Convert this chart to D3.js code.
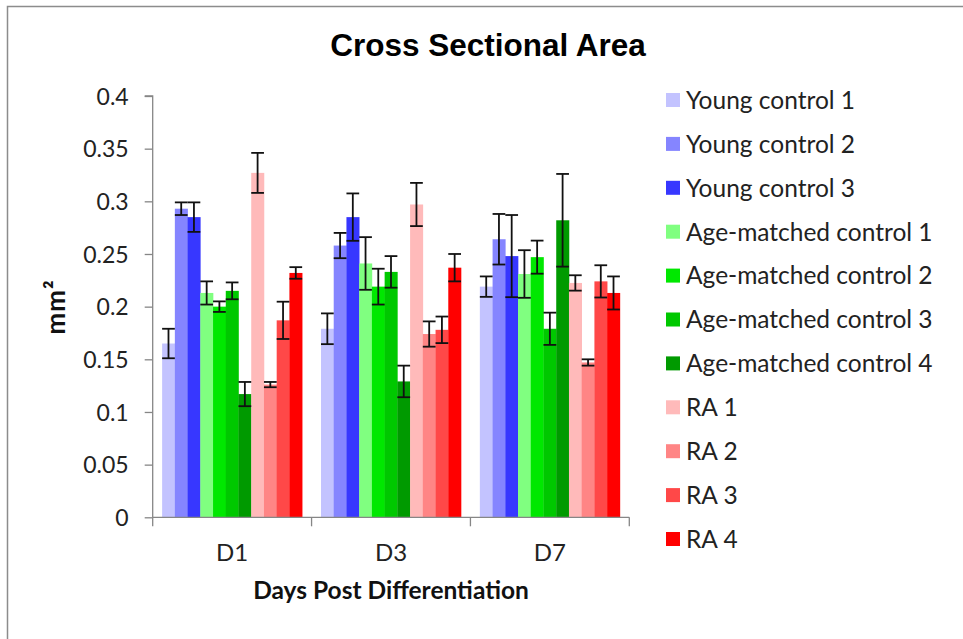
<!DOCTYPE html>
<html>
<head>
<meta charset="utf-8">
<script src="https://cdn.jsdelivr.net/npm/d3@7"></script>
<style>
  body { margin: 0; background: #fff; }
  svg { display: block; }
  .tick text { font-family: Lato, "Open Sans", sans-serif; font-size: 23px; fill: #222; }
</style>
</head>
<body>
<svg id="chart" width="963" height="639"></svg>
<script>
const days = ["D1", "D3", "D7"];
const groups = ["Young control 1", "Young control 2", "Young control 3",
  "Age-matched control 1", "Age-matched control 2", "Age-matched control 3", "Age-matched control 4",
  "RA 1", "RA 2", "RA 3", "RA 4"];
const colors = ["#c3c3ff", "#8585ff", "#3737ff", "#80ff80", "#00e800", "#00c800", "#009a00",
  "#ffbaba", "#ff8585", "#ff4848", "#ff0000"];
// mean per group, one value per day
const means = [
  [0.165, 0.179, 0.219],
  [0.293, 0.258, 0.264],
  [0.285, 0.285, 0.248],
  [0.213, 0.241, 0.231],
  [0.200, 0.219, 0.247],
  [0.215, 0.233, 0.179],
  [0.117, 0.129, 0.282],
  [0.327, 0.297, 0.2225],
  [0.126, 0.174, 0.147],
  [0.187, 0.178, 0.224],
  [0.232, 0.237, 0.213]
];
// error bar half-length
const errs = [
  [0.014, 0.0146, 0.0097],
  [0.006, 0.012, 0.024],
  [0.014, 0.0225, 0.039],
  [0.011, 0.025, 0.0226],
  [0.005, 0.017, 0.0157],
  [0.008, 0.015, 0.0153],
  [0.0115, 0.015, 0.044],
  [0.019, 0.0205, 0.0073],
  [0.0025, 0.012, 0.003],
  [0.0177, 0.0126, 0.0153],
  [0.0055, 0.013, 0.0157]
];
const yTicks = [0, 0.05, 0.1, 0.15, 0.2, 0.25, 0.3, 0.35, 0.4];

let svg = d3.select("#chart");

// outer frame
svg.append("rect")
   .attr("x", 7.5).attr("y", 6.5)
   .attr("width", 1000).attr("height", 700)
   .attr("fill", "none")
   .attr("stroke", "#8c8c8c")
   .attr("stroke-width", 1.5);

let margin = {left: 152.7, top: 96, right: 629.3, bottom: 517.3};

let x0 = d3.scaleBand().domain(days).range([margin.left, margin.right]).padding(0);
let x1 = d3.scaleBand().domain(d3.range(groups.length))
           .range([0, x0.bandwidth()]).paddingInner(0).paddingOuter(0.74);
let y = d3.scaleLinear().domain([0, 0.4]).range([margin.bottom, margin.top]);

// bars
let rows = [];
groups.forEach((g, i) => {
  days.forEach((d, j) => {
    rows.push({group: i, day: d, value: means[i][j], err: errs[i][j]});
  });
});

let g = svg.append("g");
g.selectAll(".bar")
 .data(rows)
 .enter().append("rect")
 .attr("class", "bar")
 .attr("x", d => x0(d.day) + x1(d.group))
 .attr("width", x1.bandwidth() + 0.3)
 .attr("y", d => y(d.value))
 .attr("height", d => y(0) - y(d.value))
 .attr("fill", d => colors[d.group]);

// y axis
let yAxis = svg.append("g")
   .attr("transform", "translate(" + margin.left + ",0)")
   .call(d3.axisLeft(y).tickValues(yTicks).tickSize(8).tickPadding(16)
           .tickFormat(d => d3.format("")(+d.toFixed(2))));
yAxis.selectAll("path, line").attr("stroke", "#868686").attr("stroke-width", 1.3);
yAxis.select(".domain").attr("d", "M-8," + y(0.4) + "H0V" + y(0));
yAxis.selectAll(".tick text").attr("dy", "0.36em");

// x axis (ticks at category boundaries)
let xAxis = svg.append("g").attr("transform", "translate(0," + y(0) + ")");
xAxis.append("line")
     .attr("x1", margin.left).attr("x2", margin.right)
     .attr("stroke", "#868686").attr("stroke-width", 1.3);
xAxis.selectAll(".xtick")
     .data(days.concat(["end"]))
     .enter().append("line")
     .attr("x1", (d, i) => margin.left + i * x0.step())
     .attr("x2", (d, i) => margin.left + i * x0.step())
     .attr("y1", 0).attr("y2", 9)
     .attr("stroke", "#868686").attr("stroke-width", 1.3);
xAxis.selectAll(".xlabel")
     .data(days)
     .enter().append("text")
     .attr("x", d => x0(d) + x0.bandwidth() / 2)
     .attr("y", 44)
     .attr("text-anchor", "middle")
     .style("font-family", "Lato, 'Open Sans', sans-serif")
     .style("font-size", "24px")
     .attr("fill", "#222")
     .text(d => d);

// error bars
let capW = x1.bandwidth();
let eb = g.selectAll(".err")
  .data(rows)
  .enter().append("g")
  .attr("class", "err")
  .attr("stroke", "#111")
  .attr("stroke-width", 1.8);
eb.append("line")
  .attr("x1", d => x0(d.day) + x1(d.group) + capW / 2)
  .attr("x2", d => x0(d.day) + x1(d.group) + capW / 2)
  .attr("y1", d => y(d.value + d.err))
  .attr("y2", d => y(d.value - d.err));
eb.append("line")
  .attr("x1", d => x0(d.day) + x1(d.group))
  .attr("x2", d => x0(d.day) + x1(d.group) + capW)
  .attr("y1", d => y(d.value + d.err))
  .attr("y2", d => y(d.value + d.err));
eb.append("line")
  .attr("x1", d => x0(d.day) + x1(d.group))
  .attr("x2", d => x0(d.day) + x1(d.group) + capW)
  .attr("y1", d => y(d.value - d.err))
  .attr("y2", d => y(d.value - d.err));

// title
svg.append("text")
   .attr("x", 488).attr("y", 56)
   .attr("text-anchor", "middle")
   .style("font-family", "'Liberation Sans', Arial, sans-serif")
   .style("font-weight", "bold")
   .style("font-size", "31.5px")
   .attr("fill", "#000")
   .text("Cross Sectional Area");

// axis titles
svg.append("text")
   .attr("x", (margin.left + margin.right) / 2).attr("y", 599)
   .attr("text-anchor", "middle")
   .style("font-family", "Lato, 'Open Sans', sans-serif")
   .style("font-weight", "bold")
   .style("font-size", "24.5px")
   .attr("fill", "#111")
   .text("Days Post Differentiation");

svg.append("text")
   .attr("transform", "translate(65," + 307 + ") rotate(-90)")
   .attr("text-anchor", "middle")
   .style("font-family", "Lato, 'Open Sans', sans-serif")
   .style("font-weight", "bold")
   .style("font-size", "26px")
   .style("letter-spacing", "1px")
   .attr("fill", "#111")
   .text("mm²");

// legend
let legend = svg.selectAll(".legend")
  .data(groups)
  .enter().append("g")
  .attr("class", "legend")
  .attr("transform", (d, i) => "translate(666," + (100 + i * 43.9) + ")");
legend.append("rect")
  .attr("x", 0).attr("y", -7)
  .attr("width", 14).attr("height", 14)
  .attr("fill", (d, i) => colors[i]);
legend.append("text")
  .attr("x", 20)
  .attr("y", 0)
  .attr("dy", "0.36em")
  .style("font-family", "Lato, 'Open Sans', sans-serif")
  .style("font-size", "24.5px")
  .attr("fill", "#222")
  .text(d => d);
</script>
</body>
</html>
